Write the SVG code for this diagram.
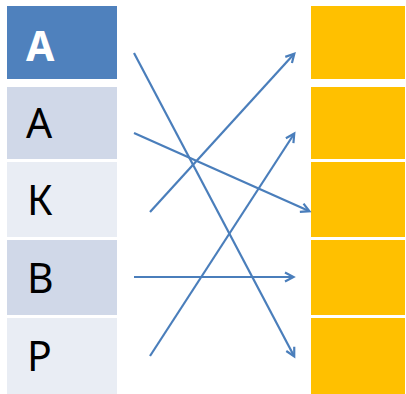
<svg xmlns="http://www.w3.org/2000/svg" width="406" height="394" viewBox="0 0 406 394">
<style>
.t{font-family:"Noto Sans","Liberation Sans",sans-serif;font-size:41px;fill:#000}
.b{font-weight:bold;fill:#fff}
.y{fill:#FFC000}
.c{stroke:#4A7EBB;stroke-width:2.2;fill:none;marker-end:url(#ah)}
</style>
<defs>
<marker id="ah" markerWidth="12" markerHeight="12" refX="9" refY="5" orient="auto" markerUnits="userSpaceOnUse" viewBox="0 0 12 10">
<path d="M1,0.5 L9.5,5 L1,9.5" fill="none" stroke="#4A7EBB" stroke-width="2.2"/>
</marker>
</defs>
<rect width="406" height="394" fill="#fff"/>
<g id="left1"><rect x="7" y="6" width="110" height="73" fill="#4F81BD"/><text class="t b" x="26" y="61">А</text></g>
<g id="left2"><rect x="7" y="87" width="110" height="72" fill="#D0D8E8"/><text class="t" x="26" y="138">А</text></g>
<g id="left3"><rect x="7" y="162" width="110" height="75" fill="#E9EDF4"/><text class="t" x="27" y="215">К</text></g>
<g id="left4"><rect x="7" y="240" width="110" height="75" fill="#D0D8E8"/><text class="t" x="27" y="293">В</text></g>
<g id="left5"><rect x="7" y="318" width="110" height="76" fill="#E9EDF4"/><text class="t" x="27" y="371">Р</text></g>
<g id="right1"><rect class="y" x="311" y="6" width="94" height="73"/></g>
<g id="right2"><rect class="y" x="311" y="87" width="94" height="72"/></g>
<g id="right3"><rect class="y" x="311" y="162" width="94" height="75"/></g>
<g id="right4"><rect class="y" x="311" y="240" width="94" height="75"/></g>
<g id="right5"><rect class="y" x="311" y="318" width="94" height="76"/></g>
<g id="connectors">
<line class="c" x1="134" y1="53" x2="294" y2="356"/>
<line class="c" x1="134" y1="133" x2="309" y2="211"/>
<line class="c" x1="150" y1="212" x2="294" y2="54"/>
<line class="c" x1="134" y1="277" x2="293" y2="277"/>
<line class="c" x1="150" y1="356" x2="294" y2="134"/>
</g>
</svg>
